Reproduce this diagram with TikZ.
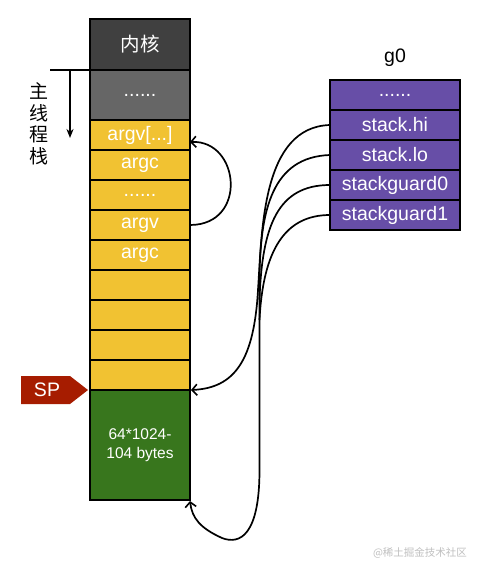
\documentclass[tikz,border=0pt]{standalone}
\usepackage{fontspec}
\setmainfont{Liberation Sans}
\newfontfamily\cjk{Noto Sans CJK SC}
\usetikzlibrary{arrows.meta}
\definecolor{kern}{HTML}{404040}
\definecolor{grayc}{HTML}{666666}
\definecolor{yell}{HTML}{F1C232}
\definecolor{grn}{HTML}{38761D}
\definecolor{purp}{HTML}{674EA7}
\definecolor{spred}{HTML}{A61C00}
\begin{document}
\begin{tikzpicture}[x=1pt,y=-1pt,
  cell/.style={draw=black, line width=2pt, minimum width=100pt, minimum height=30pt, outer sep=0pt,
    anchor=north west, inner sep=0pt, text=white, font=\fontsize{19.5}{22}\selectfont},
  ycell/.style={cell, fill=yell},
  pcell/.style={draw=black, line width=2pt, minimum width=130pt, minimum height=30pt, outer sep=0pt,
    anchor=north west, inner sep=0pt, text=white, fill=purp, font=\fontsize{19.5}{22}\selectfont},
  conn/.style={line width=1.7pt, draw=black},
  tip/.style={-{Straight Barb[length=5pt,width=11pt,line width=1.6pt]}}
]
\useasboundingbox (0,0) rectangle (480,575);

% main stack column
\node[cell, fill=kern, minimum height=51pt, font=\cjk\fontsize{19.5}{22}\selectfont] (k) at (90,19) {内核};
\node[cell, fill=grayc, minimum height=50pt] (d1) at (90,70) {......};
\node[ycell] (argvx) at (90,120) {argv[...]};
\node[ycell] (argc1) at (90,150) {argc};
\node[ycell] (d2) at (90,180) {......};
\node[ycell] (argv) at (90,210) {argv};
\node[ycell] (argc2) at (90,240) {argc};
\node[ycell] (e1) at (90,270) {};
\node[ycell] (e2) at (90,300) {};
\node[ycell] (e3) at (90,330) {};
\node[ycell] (e4) at (90,360) {};
\node[cell, fill=grn, minimum height=110pt, align=center, font=\fontsize{15.5}{19}\selectfont] (gr) at (90,390) {64*1024-\\104 bytes};

% main thread stack label
\node[font=\cjk\fontsize{19}{21.5}\selectfont, align=center, inner sep=0pt] (lbl) at (39,124) {主\\线\\程\\栈};
\coordinate (hl) at (50,70);
\coordinate (ha) at (70,70);
\coordinate (hb) at (70,138);
\draw[line width=1.8pt] (hl) -- (k.south west);
\draw[line width=1.8pt, -{Stealth[length=9pt,width=7pt]}] (ha) -- (hb);

% SP marker
\fill[spred] (21,376) -- (70,376) -- (88,390) -- (70,404) -- (21,404) -- cycle;
\node[text=white, font=\fontsize{19.5}{22}\selectfont] (sp) at (47,390) {SP};

% g0
\node[font=\fontsize{19.5}{22}\selectfont] (g0) at (395,58) {g0};
\node[pcell] (p0) at (330,80) {......};
\node[pcell] (phi) at (330,110) {stack.hi};
\node[pcell] (plo) at (330,140) {stack.lo};
\node[pcell] (pg0) at (330,170) {stackguard0};
\node[pcell] (pg1) at (330,200) {stackguard1};

% connectors
\draw[conn, tip] (argv.east) .. controls (248,225) and (240,140) .. ([yshift=-7pt]argvx.east);

\coordinate (sptip) at (191,390);
\draw[conn, tip] (phi.west) .. controls (262,127) and (262,230) .. (258,290)
   .. controls (254,360) and (235,388) .. (sptip);

\coordinate (m0) at (259.5,300);
\coordinate (bottom) at (190,501);
\draw[conn, tip] (plo.west) .. controls (272,157) and (260,210) .. (259.5,280) -- (259.5,470)
   .. controls (259.5,535) and (240,545) .. (222,538) .. controls (200,528) and (192,518) .. (bottom);
\draw[conn] (pg0.west) .. controls (278,185) and (262,225) .. (m0);
\coordinate (m1) at (259.5,320);
\draw[conn] (pg1.west) .. controls (285,215) and (263,250) .. (m1);

% watermark
\node[text=black!25, font=\cjk\fontsize{10.5}{12}\selectfont] (wm) at (420,553) {@稀土掘金技术社区};
\end{tikzpicture}
\end{document}
